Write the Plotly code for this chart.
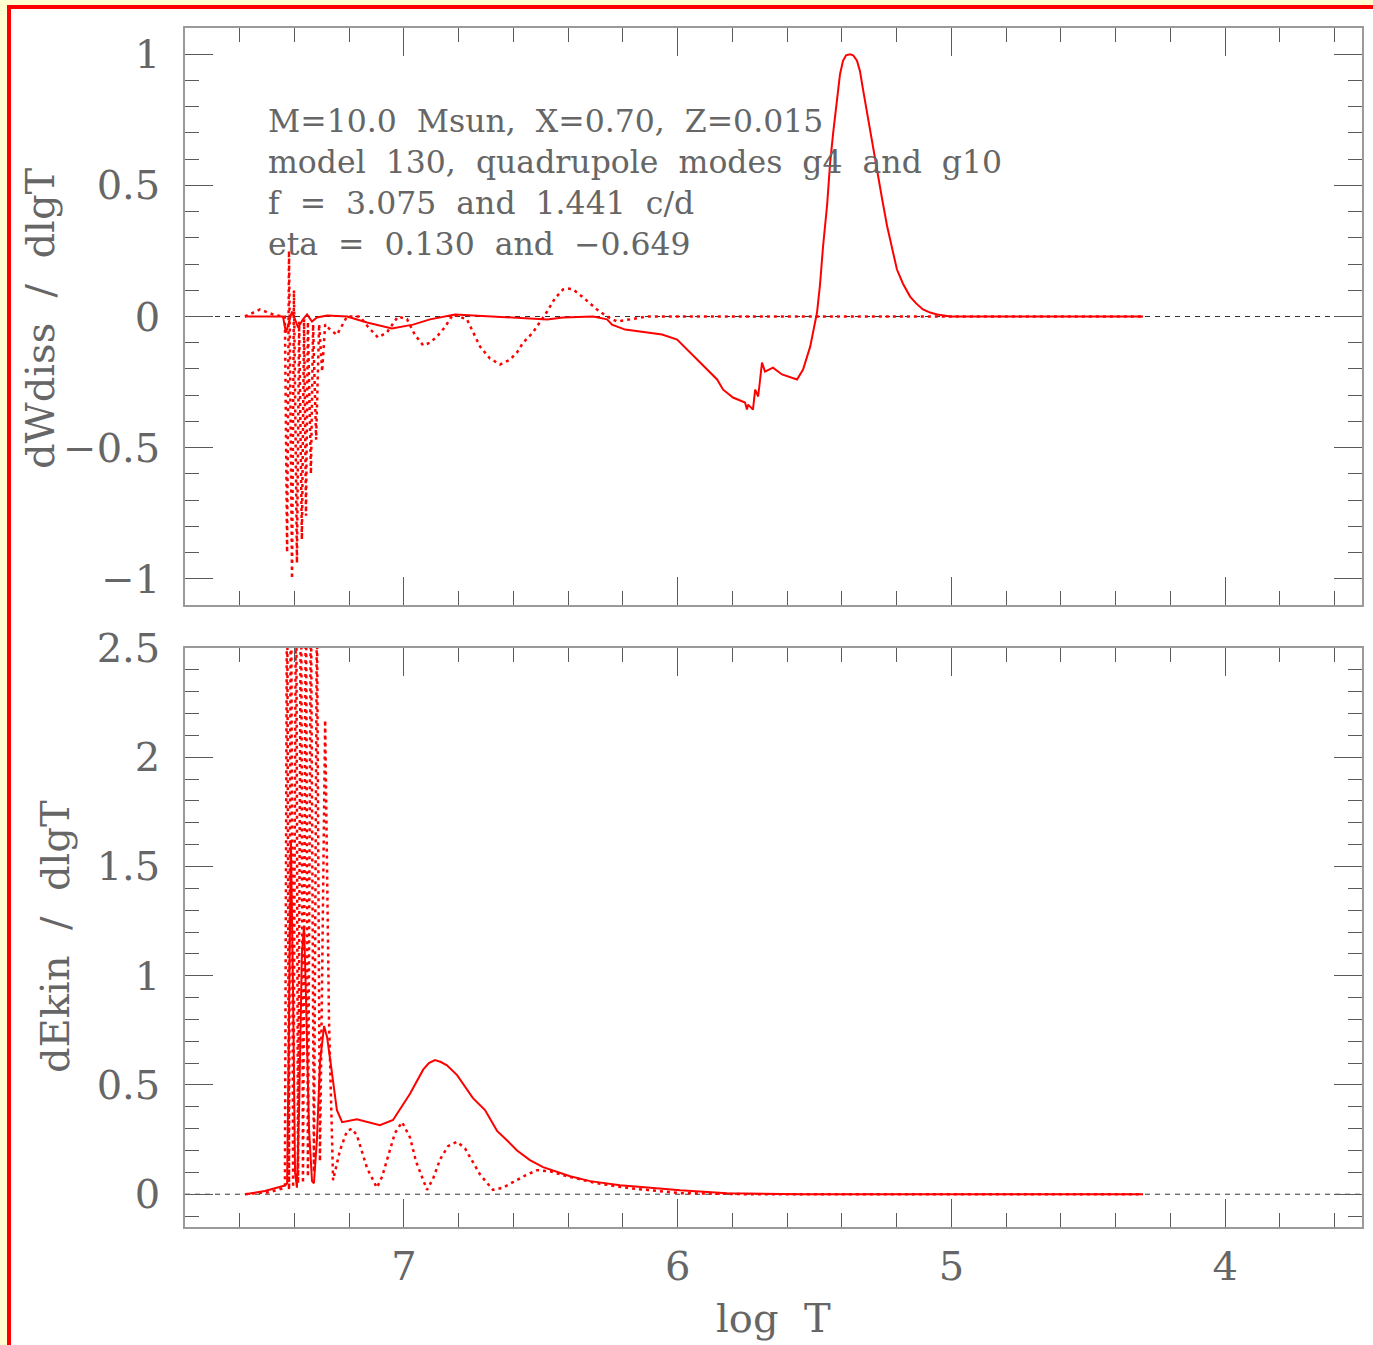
import plotly.graph_objects as go

# ---------------- data ----------------
# Top panel: dWdiss / dlgT
top_solid_logT = [7.581, 7.442, 7.431, 7.424, 7.409, 7.398, 7.387, 7.369, 7.354, 7.336, 7.318,
                  7.281, 7.208, 7.135, 7.044, 6.967, 6.905, 6.814, 6.660, 6.587, 6.477, 6.419,
                  6.309, 6.258, 6.240, 6.192, 6.145, 6.057, 6.002, 5.966, 5.929, 5.893, 5.856,
                  5.834, 5.798, 5.754, 5.747, 5.743, 5.725, 5.717, 5.706, 5.692, 5.681, 5.652,
                  5.619, 5.564, 5.542, 5.516, 5.491, 5.480, 5.469, 5.454, 5.443, 5.432, 5.418,
                  5.407, 5.396, 5.385, 5.370, 5.359, 5.345, 5.334, 5.323, 5.312, 5.297, 5.286,
                  5.272, 5.253, 5.235, 5.217, 5.199, 5.177, 5.151, 5.129, 5.104, 5.078, 5.052,
                  5.005, 4.300]
top_solid_val = [0.0, 0.0, -0.061, -0.038, 0.019, -0.011, -0.042, -0.011, 0.008, -0.019, -0.004,
                 0.004, 0.0, -0.023, -0.046, -0.031, -0.011, 0.008, 0.0, -0.004, -0.011, -0.004,
                 0.0, -0.011, -0.031, -0.050, -0.057, -0.069, -0.088, -0.126, -0.164, -0.202, -0.240,
                 -0.279, -0.309, -0.328, -0.355, -0.336, -0.355, -0.279, -0.305, -0.176, -0.210, -0.195,
                 -0.221, -0.240, -0.202, -0.115, 0.015, 0.122, 0.267, 0.427, 0.588, 0.700, 0.840,
                 0.924, 0.975, 0.996, 1.000, 0.996, 0.975, 0.935, 0.866, 0.800, 0.714, 0.637,
                 0.550, 0.447, 0.345, 0.256, 0.179, 0.125, 0.076, 0.050, 0.027, 0.015, 0.008,
                 0.0, 0.0]

top_dot_logT = [7.581, 7.526, 7.471, 7.442, 7.435, 7.427, 7.420, 7.409, 7.402, 7.391, 7.383,
                7.373, 7.365, 7.358, 7.351, 7.340, 7.332, 7.321, 7.310, 7.299, 7.288, 7.270,
                7.245, 7.208, 7.161, 7.131, 7.095, 7.062, 7.022, 6.989, 6.960, 6.930, 6.905,
                6.879, 6.850, 6.821, 6.770, 6.722, 6.686, 6.649, 6.613, 6.587, 6.565, 6.529,
                6.503, 6.477, 6.448, 6.419, 6.401, 6.382, 6.346, 6.320, 6.295, 6.258, 6.222,
                6.174, 6.112, 4.300]
top_dot_val = [0.0, 0.027, 0.005, 0.0, 0.0, -0.90, 0.25, -1.0, 0.10, -0.94, -0.02,
               -0.85, -0.01, -0.76, -0.02, -0.60, -0.03, -0.47, -0.03, -0.21, -0.03, -0.05,
               -0.07, 0.0, 0.0, -0.04, -0.08, -0.06, 0.0, -0.01, -0.07, -0.11, -0.10,
               -0.076, -0.04, 0.008, -0.011, -0.115, -0.16, -0.183, -0.165, -0.137, -0.10, -0.061,
               -0.02, 0.019, 0.07, 0.103, 0.107, 0.103, 0.073, 0.05, 0.027, 0.0, -0.019,
               -0.011, 0.0, 0.0]

# Bottom panel: dEkin / dlgT
bot_solid_logT = [7.581, 7.508, 7.435, 7.427, 7.420, 7.413, 7.405, 7.398, 7.391, 7.383, 7.373,
                  7.365, 7.358, 7.347, 7.336, 7.329, 7.318, 7.307, 7.292, 7.281, 7.270, 7.259,
                  7.245, 7.226, 7.172, 7.088, 7.040, 6.978, 6.930, 6.909, 6.887, 6.865, 6.843,
                  6.806, 6.748, 6.704, 6.660, 6.624, 6.587, 6.540, 6.492, 6.393, 6.320, 6.211,
                  6.101, 5.991, 5.820, 5.553, 4.300]
bot_solid_val = [0.0, 0.015, 0.04, 0.05, 0.8, 1.62, 0.9, 0.1, 0.03, 0.4, 1.1,
                 1.23, 0.9, 0.3, 0.06, 0.05, 0.25, 0.6, 0.77, 0.72, 0.62, 0.52,
                 0.385, 0.33, 0.343, 0.316, 0.34, 0.46, 0.57, 0.60, 0.614, 0.605, 0.59,
                 0.545, 0.44, 0.385, 0.29, 0.247, 0.20, 0.156, 0.124, 0.082, 0.06, 0.041,
                 0.03, 0.018, 0.005, 0.0, 0.0]

bot_dot_logT = [7.581, 7.489, 7.435, 7.427, 7.420, 7.413, 7.405, 7.394, 7.387, 7.376, 7.369,
                7.358, 7.351, 7.340, 7.329, 7.318, 7.307, 7.288, 7.274, 7.259, 7.234, 7.208,
                7.190, 7.172, 7.135, 7.099, 7.080, 7.058, 7.033, 7.007, 6.978, 6.956, 6.916,
                6.894, 6.868, 6.839, 6.806, 6.777, 6.759, 6.722, 6.675, 6.638, 6.602, 6.558,
                6.514, 6.466, 6.419, 6.295, 6.174, 5.991, 5.736, 4.300]
bot_dot_val = [0.0, 0.01, 0.03, 3.0, 0.02, 3.2, 0.03, 3.0, 0.05, 3.0, 0.05,
               2.9, 0.08, 2.8, 0.10, 2.7, 0.15, 2.17, 0.8, 0.064, 0.20, 0.29,
               0.30, 0.27, 0.12, 0.03, 0.08, 0.17, 0.28, 0.33, 0.26, 0.15, 0.02,
               0.07, 0.16, 0.22, 0.24, 0.21, 0.17, 0.09, 0.02, 0.03, 0.055, 0.085,
               0.11, 0.105, 0.087, 0.05, 0.027, 0.005, 0.0, 0.0]

x_ticks = [7, 6, 5, 4]
info_lines = ["M=10.0  Msun,  X=0.70,  Z=0.015",
              "model  130,  quadrupole  modes  g4  and  g10",
              "f  =  3.075  and  1.441  c/d",
              "eta  =  0.130  and  \u22120.649"]

# ---------------- figure ----------------
RED = "#ff0000"
FONT = "DejaVu Serif"
TXT = "#666666"
FRAME = "#9a9a9a"
TICK = "#5a5a5a"

fig = go.Figure()
fig.add_trace(go.Scatter(x=top_solid_logT, y=top_solid_val, mode="lines",
                         line=dict(color=RED, width=2), xaxis="x", yaxis="y"))
fig.add_trace(go.Scatter(x=top_dot_logT, y=top_dot_val, mode="lines",
                         line=dict(color=RED, width=2.5, dash="3px,4px"), xaxis="x", yaxis="y"))
fig.add_trace(go.Scatter(x=bot_solid_logT, y=bot_solid_val, mode="lines",
                         line=dict(color=RED, width=2), xaxis="x2", yaxis="y2"))
fig.add_trace(go.Scatter(x=bot_dot_logT, y=bot_dot_val, mode="lines",
                         line=dict(color=RED, width=2.5, dash="3px,4px"), xaxis="x2", yaxis="y2"))

W, H = 1373, 1345
ML, MR, MT, MB = 185, 11, 28, 118
PW, PH = W - ML - MR, H - MT - MB


def px(xp):
    return (xp - ML) / PW


def py(yp):
    return (H - MB - yp) / PH


common_x = dict(range=[7.8, 3.5], autorange=False, automargin=False, showgrid=False,
                zeroline=False, showline=True, linecolor=FRAME, linewidth=1.5, mirror="ticks",
                ticks="inside", ticklen=28, tickwidth=1.3, tickcolor=TICK,
                tickmode="array", tickvals=x_ticks,
                minor=dict(dtick=0.2, tick0=0, ticks="inside", ticklen=14, tickwidth=1.3,
                           tickcolor=TICK, showgrid=False),
                tickfont=dict(family=FONT, size=40, color=TXT))
common_y = dict(showgrid=False, zeroline=False, showline=True, linecolor=FRAME, linewidth=1.5,
                automargin=False,
                mirror="ticks", ticks="inside", ticklen=28, tickwidth=1.3, tickcolor=TICK,
                dtick=0.5, tick0=0,
                minor=dict(dtick=0.1, tick0=0, ticks="inside", ticklen=14, tickwidth=1.3,
                           tickcolor=TICK, showgrid=False),
                tickfont=dict(family=FONT, size=40, color=TXT), ticklabelstandoff=15)

top_dom = [py(605), 1.0]
bot_dom = [0.0, py(648)]

fig.update_layout(
    width=W, height=H, autosize=False,
    margin=dict(l=ML, r=MR, t=MT, b=MB, pad=0),
    paper_bgcolor="#ffffd2", plot_bgcolor="rgba(0,0,0,0)",
    showlegend=False,
    xaxis=dict(common_x, domain=[0, 1], anchor="y", showticklabels=False),
    yaxis=dict(common_y, domain=top_dom, anchor="x", range=[-1.1, 1.1], autorange=False),
    xaxis2=dict(common_x, domain=[0, 1], anchor="y2", showticklabels=True,
                ticklabelstandoff=3),
    yaxis2=dict(common_y, domain=bot_dom, anchor="x2", range=[-0.15, 2.5], autorange=False),
)

# white page with red frame (left + top visible)
fig.add_shape(type="rect", xref="paper", yref="paper",
              x0=px(9), x1=px(1400), y0=py(1400), y1=py(7),
              line=dict(color=RED, width=4), fillcolor="white", layer="below")

# dashed zero lines
for xr, yr in (("x", "y"), ("x2", "y2")):
    fig.add_shape(type="line", xref=f"{xr} domain", yref=yr, x0=0, x1=1, y0=0, y1=0,
                  line=dict(color="#333333", width=1, dash="5px,5px"), layer="below")

# axis titles
fig.add_annotation(x=px(40), y=py(318), xref="paper", yref="paper", text="dWdiss  /  dlgT",
                   textangle=-90, showarrow=False, xanchor="center", yanchor="middle",
                   font=dict(family=FONT, size=40, color=TXT))
fig.add_annotation(x=px(55), y=py(937), xref="paper", yref="paper", text="dEkin  /  dlgT",
                   textangle=-90, showarrow=False, xanchor="center", yanchor="middle",
                   font=dict(family=FONT, size=40, color=TXT))
fig.add_annotation(x=px(773), y=py(1318), xref="paper", yref="paper", text="log  T",
                   showarrow=False, xanchor="center", yanchor="middle",
                   font=dict(family=FONT, size=40, color=TXT))

# info text block
fig.add_annotation(x=px(266), y=py(182), xref="paper", yref="paper",
                   text="<br>".join(info_lines), align="left",
                   showarrow=False, xanchor="left", yanchor="middle",
                   font=dict(family=FONT, size=31.5, color=TXT))

fig.write_html("out.html")
